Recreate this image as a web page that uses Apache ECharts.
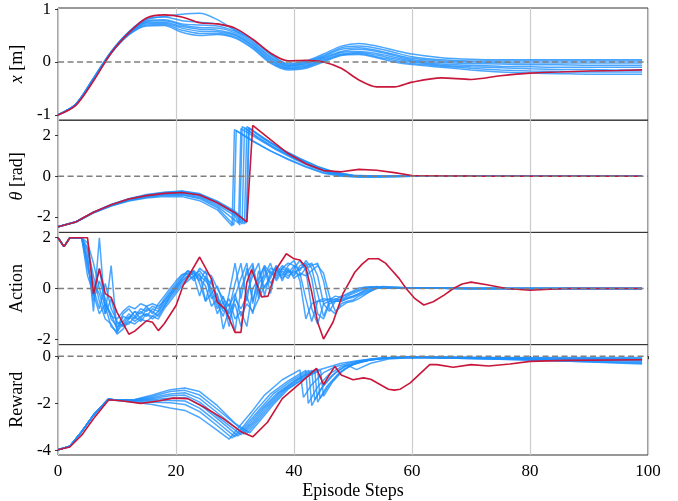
<!DOCTYPE html>
<html>
<head>
<meta charset="utf-8">
<script src="https://cdn.jsdelivr.net/npm/echarts@6/dist/echarts.min.js"></script>
<style>
html, body { margin: 0; padding: 0; background: #fff; }
#main { width: 678px; height: 501px; }
</style>
</head>
<body>
<div id="main"></div>
<script>
// x [m] panel: shared step grid
var posSteps = [0,3,6,9,12,15,18,21,24,27,30,33,36,39,42,45,48,51,54,57,60,65,70,75,80,85,90,95,99];
var posRed = [-1,-0.82,-0.36,0.17,0.55,0.83,0.89,0.85,0.74,0.72,0.64,0.43,0.17,0.02,0.03,0.0,-0.12,-0.34,-0.47,-0.47,-0.38,-0.3,-0.33,-0.26,-0.21,-0.19,-0.17,-0.16,-0.15];
var posBlue = [
  [-1,-0.8,-0.3,0.2,0.57,0.8,0.86,0.9,0.92,0.8,0.6,0.42,0.15,-0.03,0.02,0.15,0.3,0.35,0.3,0.22,0.15,0.08,0.05,0.04,0.04,0.04,0.04,0.04,0.04],
  [-1,-0.8,-0.31,0.19,0.57,0.82,0.85,0.78,0.75,0.72,0.62,0.42,0.14,-0.05,0.0,0.12,0.27,0.3,0.26,0.18,0.1,0.04,0.02,0.02,0.02,0.02,0.02,0.02,0.02],
  [-1,-0.8,-0.31,0.19,0.56,0.78,0.8,0.72,0.7,0.68,0.58,0.38,0.1,-0.07,-0.02,0.1,0.24,0.27,0.22,0.14,0.07,0.02,0.0,-0.01,-0.02,-0.02,-0.02,-0.02,-0.02],
  [-1,-0.8,-0.32,0.18,0.55,0.76,0.78,0.7,0.65,0.64,0.55,0.35,0.08,-0.08,-0.04,0.08,0.2,0.24,0.2,0.12,0.04,-0.01,-0.03,-0.04,-0.05,-0.05,-0.06,-0.06,-0.06],
  [-1,-0.8,-0.32,0.18,0.54,0.74,0.75,0.67,0.62,0.6,0.52,0.32,0.05,-0.1,-0.06,0.06,0.18,0.2,0.16,0.09,0.02,-0.04,-0.06,-0.08,-0.09,-0.1,-0.1,-0.1,-0.1],
  [-1,-0.8,-0.33,0.17,0.53,0.72,0.73,0.64,0.58,0.57,0.5,0.3,0.03,-0.12,-0.08,0.04,0.15,0.18,0.13,0.06,0.0,-0.06,-0.09,-0.11,-0.13,-0.14,-0.14,-0.15,-0.15],
  [-1,-0.81,-0.33,0.17,0.52,0.7,0.71,0.6,0.54,0.54,0.47,0.27,0.0,-0.13,-0.1,0.02,0.13,0.16,0.1,0.03,-0.03,-0.08,-0.12,-0.15,-0.17,-0.18,-0.19,-0.19,-0.19],
  [-1,-0.81,-0.34,0.16,0.51,0.68,0.69,0.56,0.5,0.52,0.45,0.25,-0.02,-0.15,-0.12,0.0,0.12,0.14,0.08,0.0,-0.05,-0.1,-0.15,-0.19,-0.21,-0.22,-0.23,-0.23,-0.23]
];

// theta [rad] panel: [step, value]
var thetaRed = [[0,-2.48],[3,-2.25],[6,-1.77],[9,-1.4],[12,-1.12],[15,-0.95],[18,-0.84],[21,-0.8],[24,-0.92],[27,-1.3],[30,-1.8],[32,-2.24],[33,2.5],[36,1.8],[39,1.12],[42,0.62],[45,0.28],[48,0.22],[51,0.34],[54,0.3],[57,0.18],[60,0.04],[65,0.02],[70,0.01],[80,0],[99,0]];
var thetaBlue = [
  [[0,-2.48],[3,-2.26],[6,-1.8],[9,-1.46],[12,-1.22],[15,-1.07],[18,-1.0],[21,-1.0],[24,-1.2],[27,-1.65],[29.5,-2.45],[29.9,2.3],[33,1.75],[36,1.25],[39,0.82],[42,0.45],[45,0.15],[48,0.0],[51,-0.04],[55,-0.02],[60,0],[99,0]],
  [[0,-2.48],[3,-2.25],[6,-1.79],[9,-1.45],[12,-1.19],[15,-1.03],[18,-0.94],[21,-0.92],[24,-1.1],[27,-1.55],[29.8,-2.4],[30.2,2.25],[33,1.72],[36,1.25],[39,0.85],[42,0.48],[45,0.18],[48,0.03],[51,-0.03],[55,-0.02],[60,0],[99,0]],
  [[0,-2.48],[3,-2.25],[6,-1.78],[9,-1.43],[12,-1.16],[15,-0.99],[18,-0.88],[21,-0.85],[24,-1.0],[27,-1.4],[30,-1.95],[30.8,-2.4],[31.2,2.45],[34,1.9],[37,1.35],[40,0.9],[43,0.5],[46,0.18],[49,0.02],[53,-0.02],[60,0],[99,0]],
  [[0,-2.48],[3,-2.25],[6,-1.78],[9,-1.42],[12,-1.14],[15,-0.96],[18,-0.85],[21,-0.8],[24,-0.95],[27,-1.32],[30,-1.85],[31.2,-2.35],[31.6,2.4],[34,1.85],[37,1.35],[40,0.9],[43,0.5],[46,0.2],[49,0.05],[53,0.0],[60,0],[99,0]],
  [[0,-2.48],[3,-2.24],[6,-1.77],[9,-1.41],[12,-1.12],[15,-0.94],[18,-0.82],[21,-0.76],[24,-0.9],[27,-1.28],[30,-1.8],[31.6,-2.35],[32,2.45],[35,1.85],[38,1.3],[41,0.85],[44,0.45],[47,0.18],[50,0.04],[55,0],[99,0]],
  [[0,-2.48],[3,-2.24],[6,-1.76],[9,-1.4],[12,-1.11],[15,-0.92],[18,-0.8],[21,-0.74],[24,-0.88],[27,-1.25],[30,-1.75],[31.9,-2.3],[32.3,2.4],[35,1.85],[38,1.32],[41,0.88],[44,0.48],[47,0.2],[50,0.05],[55,0],[99,0]],
  [[0,-2.48],[3,-2.24],[6,-1.76],[9,-1.39],[12,-1.1],[15,-0.9],[18,-0.78],[21,-0.72],[24,-0.85],[27,-1.22],[30,-1.72],[32,-2.25],[32.4,2.35],[35,1.8],[38,1.28],[41,0.85],[44,0.46],[47,0.18],[50,0.04],[55,0.0],[99,0]],
  [[0,-2.48],[3,-2.25],[6,-1.79],[9,-1.44],[12,-1.18],[15,-1.01],[18,-0.91],[21,-0.9],[24,-1.05],[27,-1.48],[30.6,-2.3],[31,2.35],[34,1.82],[37,1.3],[40,0.85],[43,0.45],[46,0.15],[49,0.02],[53,-0.02],[60,0],[99,0]]
];

// Action panel: red as [step, value]; blue values for steps 0..55, then actTail
var actRed = [[0,2],[1,1.65],[2,2],[5,2],[6,-0.21],[7,0.77],[8,-0.2],[9,-0.36],[10,-0.94],[12,-1.8],[13,-1.68],[15,-1.27],[16,-1.33],[17,-1.66],[18,-1.39],[20,-0.67],[21.2,0.12],[24,1.24],[26,0.38],[27,-0.54],[28.3,-0.8],[30,-1.73],[31,-1.73],[32,0.25],[32.8,0.75],[34.5,-0.33],[35.6,-0.3],[37,0.77],[38.7,1.37],[40,1.17],[41,1.12],[42,0.84],[43,-0.15],[44,-1.33],[45,-1.99],[46.6,-1.33],[48.3,-0.2],[50.3,0.64],[51.5,0.95],[52.6,1.17],[54.3,1.17],[55.5,1.0],[56.5,0.74],[57.8,0.4],[59,0],[60.5,-0.4],[62,-0.65],[63.6,-0.52],[65.5,-0.25],[67,0],[68.5,0.18],[70,0.25],[72.7,0.15],[76,0],[80,-0.07],[86,0],[99,0]];
var actBlue = [
  [2,1.65,2,2,2,1.3,-0.9,2.0,-1.0,0.9,-1.75,-1.1,-1.2,-0.9,-1.0,-0.7,-1.0,-0.6,-0.3,0.0,0.3,0.55,0.6,0.7,0.2,-0.5,0.4,-0.6,-1.1,-0.2,1.0,-0.4,0.8,-0.5,0.3,0.9,0.6,0.5,0.8,1.0,0.9,0.3,-1.2,-0.6,-0.5,-0.4,-0.45,-0.3,-0.35,-0.2,-0.1,0.02,0.05,0.05,0.03,0.02],
  [2,1.65,2,2,2,1.0,-0.3,0.8,-0.6,-1.0,-1.6,-1.0,-0.8,-1.1,-0.8,-0.9,-0.7,-0.8,-0.4,-0.1,0.2,0.5,0.7,0.5,-0.3,0.5,-0.4,-0.2,-1.6,-0.8,0.2,1.0,-0.5,0.9,-0.2,0.4,0.8,0.7,0.5,0.9,1.1,0.6,-0.4,-1.3,-0.5,-0.5,-0.4,-0.45,-0.3,-0.25,-0.15,-0.05,0.05,0.06,0.03,0.02],
  [2,1.65,2,2,2,1.5,0.2,-0.2,-1.0,-0.4,-1.4,-1.3,-1.0,-1.2,-0.9,-1.1,-0.8,-0.9,-0.5,-0.2,0.1,0.4,0.6,0.3,0.6,-0.5,-0.2,-1.0,-0.5,-1.5,-0.3,0.4,1.0,-0.6,0.7,0.0,0.5,0.9,0.6,0.4,0.8,1.1,0.7,-0.8,-1.4,-0.6,-0.5,-0.5,-0.4,-0.3,-0.2,-0.1,0.0,0.06,0.04,0.02],
  [2,1.65,2,2,2,1.1,-0.5,0.3,-0.4,-1.2,-1.5,-1.4,-1.1,-1.3,-1.1,-1.0,-1.1,-0.9,-0.6,-0.3,0.0,0.3,0.5,0.6,0.4,0.1,-0.7,-0.4,-0.9,-0.6,-1.7,0.0,0.6,1.0,-0.4,0.8,0.2,0.6,0.9,0.7,0.5,0.9,1.0,0.4,-1.0,-1.2,-0.6,-0.5,-0.5,-0.4,-0.3,-0.2,-0.05,0.05,0.08,0.04],
  [2,1.65,2,2,2,0.8,0.0,-0.8,0.2,-0.8,-1.3,-1.5,-1.2,-0.9,-1.2,-0.8,-0.9,-1.1,-0.7,-0.4,-0.1,0.2,0.4,0.7,0.5,0.3,0.0,-0.8,-0.3,-1.2,-0.6,-1.5,-0.2,0.5,1.0,-0.3,0.7,0.4,0.8,0.6,0.9,0.7,1.1,0.8,-0.2,-1.1,-0.5,-0.4,-0.45,-0.35,-0.3,-0.2,-0.1,0.0,0.06,0.04],
  [2,1.65,2,2,2,1.6,0.5,-0.5,-1.2,-1.4,-1.8,-1.6,-1.3,-1.4,-1.2,-1.3,-1.1,-1.2,-0.8,-0.5,-0.2,0.1,0.3,0.5,0.7,0.4,0.2,-0.3,-0.8,-0.4,-1.2,-0.9,-1.5,0.0,0.4,0.9,-0.2,0.8,0.4,0.7,0.6,0.8,0.9,1.0,0.5,-0.6,-0.9,-0.5,-0.5,-0.4,-0.35,-0.25,-0.15,-0.05,0.05,0.08],
  [2,1.65,2,2,2,0.5,-0.2,-1.0,-0.6,-1.1,-1.2,-0.9,-0.7,-0.8,-0.6,-0.7,-0.6,-0.7,-0.5,-0.2,0.1,0.4,0.7,0.6,0.3,0.7,-0.2,0.1,-0.6,-1.0,-0.4,-0.8,-0.3,-1.0,0.2,0.5,1.0,0.3,0.7,0.5,0.7,0.5,0.8,0.9,1.0,0.3,-0.8,-1.0,-0.6,-0.5,-0.45,-0.3,-0.2,-0.1,0.0,0.05],
  [2,1.65,2,2,2,1.8,1.0,0.0,-0.7,-1.5,-1.7,-1.4,-1.4,-1.1,-1.3,-1.0,-1.2,-1.0,-0.7,-0.3,0.0,0.3,0.5,0.4,0.8,0.6,0.5,0.0,-0.4,-0.7,-0.2,-1.1,-0.6,-0.9,-0.4,0.1,0.4,0.9,0.3,0.8,0.4,0.6,0.5,0.7,0.9,0.6,-0.3,-0.9,-0.7,-0.55,-0.5,-0.4,-0.25,-0.1,0.02,0.06]
];
var actTail = [[60,0.02],[70,0],[99,0]];

// Reward panel: [step, value]
var rewRed = [[0,-3.97],[2,-3.85],[4,-3.35],[6,-2.65],[8.6,-1.85],[11,-1.9],[14,-2.0],[17,-1.9],[19.5,-1.78],[22,-1.8],[25,-2.2],[28,-2.65],[31,-3.2],[33,-3.42],[35.5,-2.8],[38,-1.8],[41,-1.15],[43.8,-0.52],[45,-1.2],[46.9,-0.43],[48,-0.8],[50,-1.0],[51.8,-0.92],[53,-0.98],[56,-1.4],[57,-1.44],[58,-1.4],[59.7,-1.13],[63,-0.36],[64.2,-0.36],[67,-0.47],[70,-0.36],[73,-0.42],[76.6,-0.33],[80,-0.22],[86,-0.18],[99,-0.15]];
var rewBlue = [
  [[0,-3.97],[2,-3.82],[4,-3.2],[6,-2.5],[8.5,-1.83],[10,-1.88],[13,-1.95],[16,-2.05],[19,-2.2],[21.5,-2.3],[24,-2.6],[27,-3.15],[29,-3.52],[31,-2.9],[33,-2.3],[35,-1.65],[38,-1.0],[41,-0.58],[41.6,-1.75],[43,-1.2],[45,-0.7],[47,-0.45],[50,-0.25],[53,-0.12],[56,-0.06],[60,-0.04],[70,-0.06],[80,-0.08],[99,-0.1]],
  [[0,-3.97],[2,-3.82],[4,-3.2],[6,-2.5],[8.5,-1.83],[10,-1.87],[13,-1.92],[16,-1.95],[19,-1.98],[21.5,-2.05],[24,-2.35],[27,-2.95],[29.5,-3.47],[31.5,-2.95],[33.5,-2.3],[36,-1.6],[39,-1.05],[42,-0.6],[42.4,-2.0],[44,-1.3],[46,-0.75],[48,-0.45],[51,-0.22],[54,-0.1],[58,-0.05],[65,-0.05],[99,-0.13]],
  [[0,-3.97],[2,-3.82],[4,-3.2],[6,-2.5],[8.5,-1.83],[10,-1.86],[13,-1.9],[16,-1.88],[19,-1.88],[21.5,-1.9],[24,-2.2],[27,-2.8],[30,-3.42],[32,-2.9],[34,-2.3],[36.5,-1.6],[39.5,-1.05],[42.5,-0.6],[43,-2.1],[44.5,-1.4],[46.5,-0.8],[48.5,-0.45],[51,-0.25],[54,-0.12],[58,-0.05],[65,-0.06],[99,-0.18]],
  [[0,-3.97],[2,-3.82],[4,-3.2],[6,-2.5],[8.5,-1.83],[10,-1.86],[13,-1.88],[16,-1.84],[19,-1.78],[21.5,-1.75],[24,-2.05],[27,-2.65],[30.5,-3.38],[32.5,-2.85],[34.5,-2.25],[37,-1.6],[40,-1.05],[43,-0.6],[43.5,-1.85],[45,-1.25],[47,-0.7],[49,-0.38],[50.6,-0.57],[53,-0.3],[56,-0.12],[60,-0.06],[70,-0.1],[99,-0.22]],
  [[0,-3.97],[2,-3.82],[4,-3.2],[6,-2.5],[8.5,-1.83],[10,-1.86],[13,-1.87],[16,-1.8],[19,-1.68],[21.5,-1.65],[24,-1.95],[27,-2.55],[31,-3.33],[33,-2.8],[35,-2.2],[37.5,-1.55],[40.5,-1.0],[43.5,-0.58],[44,-1.95],[45.5,-1.3],[47.5,-0.75],[49.5,-0.4],[52,-0.2],[55,-0.1],[60,-0.06],[70,-0.1],[99,-0.27]],
  [[0,-3.97],[2,-3.82],[4,-3.2],[6,-2.5],[8.5,-1.83],[10,-1.86],[13,-1.86],[16,-1.75],[19,-1.6],[21.5,-1.55],[24,-1.8],[27,-2.4],[31.5,-3.3],[33.5,-2.75],[35.5,-2.15],[38,-1.5],[41,-0.95],[44,-0.55],[44.4,-1.8],[46,-1.2],[48,-0.65],[50,-0.35],[53,-0.15],[56,-0.08],[60,-0.05],[70,-0.1],[99,-0.3]],
  [[0,-3.97],[2,-3.82],[4,-3.2],[6,-2.5],[8.5,-1.83],[10,-1.86],[13,-1.85],[16,-1.7],[19,-1.5],[21.5,-1.45],[24,-1.65],[27,-2.25],[32,-3.28],[34,-2.7],[36,-2.1],[38.5,-1.45],[41.5,-0.95],[44.5,-0.6],[45,-1.7],[46.5,-1.1],[48.5,-0.55],[50.5,-0.3],[53,-0.15],[57,-0.07],[62,-0.04],[75,-0.1],[99,-0.33]],
  [[0,-3.97],[2,-3.82],[4,-3.2],[6,-2.5],[8.5,-1.83],[10,-1.86],[13,-1.84],[16,-1.65],[19,-1.42],[21.5,-1.35],[24,-1.5],[27,-2.1],[30,-2.85],[32.5,-3.25],[34.5,-2.65],[36.5,-2.05],[39,-1.4],[42,-0.9],[44,-0.6],[46,-0.45],[48,-0.3],[51,-0.18],[55,-0.08],[60,-0.04],[70,-0.05],[99,-0.06]]
];

var xTicks = [0, 20, 40, 60, 80, 100];
var yNames = ['{i|x} [m]', '{i|θ} [rad]', 'Action', 'Reward'];
var yRanges = [[-1.1, 1.02], [-2.76, 2.76], [-2.21, 2.21], [-4.19, 0.49]];
var yTicks = [[-1, 0, 1], [-2, 0, 2], [-2, 0, 2], [-4, -2, 0]];

var FONT = '"Liberation Serif", "DejaVu Serif", serif';
var BLUE = 'rgba(30,144,255,0.8)';
var RED = '#c8173a';
var gridTops = [8, 120.2, 232.4, 344.6];

var chart = echarts.init(document.getElementById('main'));

var grids = [], xAxes = [], yAxes = [], series = [];
for (var g = 0; g < 4; g++) {
    var last = g === 3;
    grids.push({
        left: 58, right: 30, top: gridTops[g], height: 112.2,
        show: true, borderColor: '#333', borderWidth: 1, backgroundColor: 'transparent'
    });
    xAxes.push({
        type: 'value', gridIndex: g, min: 0, max: 100, interval: 20,
        axisLine: { show: false },
        axisTick: { show: last, length: 3, lineStyle: { color: '#333' } },
        axisLabel: { show: last, margin: 8, fontFamily: FONT, fontSize: 17, color: '#000' },
        splitLine: { show: true, lineStyle: { color: '#cccccc', width: 1.2 } },
        name: last ? 'Episode Steps' : '',
        nameLocation: 'middle', nameGap: 27,
        nameTextStyle: { fontFamily: FONT, fontSize: 18, color: '#000' }
    });
    yAxes.push({
        type: 'value', gridIndex: g, min: yRanges[g][0], max: yRanges[g][1],
        axisLine: { show: false },
        axisTick: { show: true, length: 3, customValues: yTicks[g], lineStyle: { color: '#333' } },
        axisLabel: { show: true, margin: 7, customValues: yTicks[g], fontFamily: FONT, fontSize: 17, color: '#000' },
        splitLine: { show: false },
        name: yNames[g], nameLocation: 'middle', nameGap: 28,
        nameTextStyle: {
            fontFamily: FONT, fontSize: 18, color: '#000',
            rich: { i: { fontFamily: FONT, fontSize: 18, fontStyle: 'italic', color: '#000' } }
        }
    });
}

function addLine(g, data, color, width, z, smooth) {
    series.push({
        type: 'line', xAxisIndex: g, yAxisIndex: g, data: data,
        symbol: 'none', smooth: smooth || false, silent: true, z: z,
        lineStyle: { color: color, width: width }
    });
}

function pairs(xs, ys) {
    return ys.map(function (v, i) { return [xs[i], v]; });
}

// blue runs first, red on top
posBlue.forEach(function (b) { addLine(0, pairs(posSteps, b), BLUE, 1.5, 2, 0.3); });
addLine(0, pairs(posSteps, posRed), RED, 1.6, 3, 0.3);

thetaBlue.forEach(function (b) { addLine(1, b, BLUE, 1.5, 2); });
addLine(1, thetaRed, RED, 1.6, 3);

actBlue.forEach(function (b) {
    var d = b.map(function (v, i) { return [i, v]; }).concat(actTail);
    addLine(2, d, BLUE, 1.5, 2);
});
addLine(2, actRed, RED, 1.6, 3);

rewBlue.forEach(function (b) { addLine(3, b, BLUE, 1.5, 2); });
addLine(3, rewRed, RED, 1.6, 3);

// dashed zero line in each panel
for (var k = 0; k < 4; k++) {
    series.push({
        type: 'line', xAxisIndex: k, yAxisIndex: k, data: [[0, 0], [100, 0]],
        symbol: 'none', silent: true, z: 4,
        lineStyle: { color: '#7f7f7f', width: 1.5, type: [6, 3.5] }
    });
}

chart.setOption({
    animation: false,
    backgroundColor: '#fff',
    grid: grids,
    xAxis: xAxes,
    yAxis: yAxes,
    series: series
});
window.addEventListener('resize', function () {
    chart.resize();
});
</script>
</body>
</html>
